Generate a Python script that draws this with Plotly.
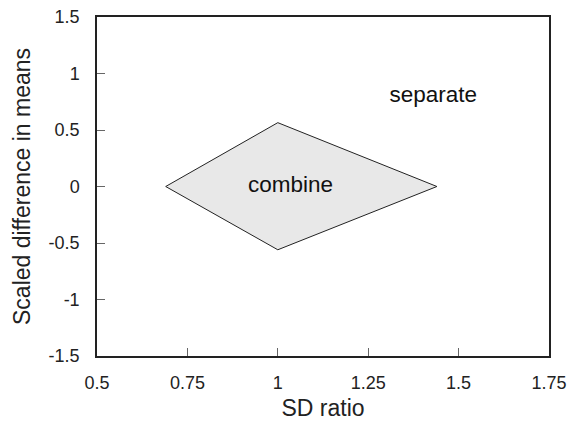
import plotly.graph_objects as go

# Region boundary (diamond) vertices
region_x = [0.69, 1.0, 1.44, 1.0, 0.69]
region_y = [0.0, 0.565, 0.0, -0.56, 0.0]

x_ticks = [0.5, 0.75, 1, 1.25, 1.5, 1.75]
x_labels = ["0.5", "0.75", "1", "1.25", "1.5", "1.75"]
y_ticks = [-1.5, -1, -0.5, 0, 0.5, 1, 1.5]
y_labels = ["-1.5", "-1", "-0.5", "0", "0.5", "1", "1.5"]

labels_text = ["combine", "separate"]
labels_x = [1.035, 1.43]
labels_y = [0.0, 0.8]

font = "Liberation Sans, Arial, sans-serif"

fig = go.Figure()
fig.add_trace(go.Scatter(
    x=region_x, y=region_y, mode="lines", fill="toself",
    fillcolor="#e8e8e8", line=dict(color="#222222", width=1),
    hoverinfo="skip", showlegend=False))
fig.add_trace(go.Scatter(
    x=labels_x, y=labels_y, mode="text", text=labels_text,
    textfont=dict(family=font, size=22.5, color="#111111"),
    textposition="middle center", showlegend=False))

axis_common = dict(
    showgrid=False, zeroline=False, showline=True, linecolor="#222222",
    linewidth=1.5, mirror=True, ticks="inside", ticklen=8, tickcolor="#666666",
    tickfont=dict(family=font, size=18, color="#222222"), automargin=False,
)
fig.update_xaxes(range=[0.5, 1.75], tickvals=x_ticks, ticktext=x_labels,
                 ticklabelstandoff=10,
                 title=dict(text="SD ratio", font=dict(family=font, size=23, color="#222222"), standoff=10),
                 **axis_common)
fig.update_yaxes(range=[-1.5, 1.5], tickvals=y_ticks, ticktext=y_labels,
                 ticklabelstandoff=12,
                 title=dict(text="Scaled difference in means", font=dict(family=font, size=23, color="#222222"), standoff=12),
                 **axis_common)
fig.update_layout(
    width=567, height=421,
    margin=dict(l=97, r=18, t=17, b=65),
    plot_bgcolor="white", paper_bgcolor="white",
)
fig.write_html("out.html")
